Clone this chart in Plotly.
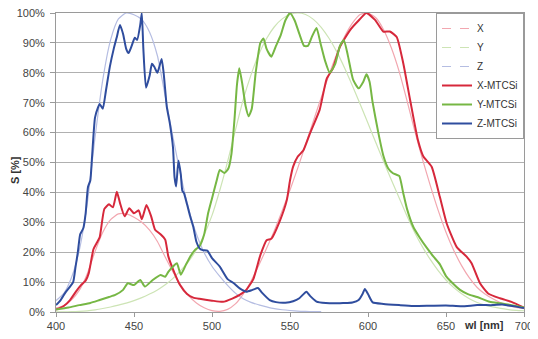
import plotly.graph_objects as go

# ---- Reference curves (thin, light) ----
ref_wl = [400, 405, 410, 415, 420, 425, 430, 435, 440, 445, 450, 455, 460, 465, 470, 475,
          480, 485, 490, 495, 500, 505, 510, 515, 520, 525, 530, 535, 540, 545, 550, 555,
          560, 565, 570, 575, 580, 585, 590, 595, 600, 605, 610, 615, 620, 625, 630, 635,
          640, 645, 650, 655, 660, 665, 670, 675, 680, 685, 690, 695, 700]
x_ref = [1.35, 2.2, 4.1, 7.3, 12.7, 20.2, 26.7, 30.9, 32.8, 32.8, 31.7, 30.0, 27.4, 23.6, 18.4, 13.4,
         9.0, 5.5, 3.0, 1.4, 0.46, 0.23, 0.88, 2.7, 6.0, 10.3, 15.6, 21.3, 27.3, 33.9, 40.8, 48.2,
         56.0, 63.9, 71.7, 79.3, 86.3, 92.1, 96.6, 99.5, 100, 98.4, 94.4, 88.3, 80.4, 70.7, 60.5, 51.0,
         42.2, 34.0, 26.7, 20.6, 15.5, 11.4, 8.2, 6.0, 4.4, 3.1, 2.1, 1.5, 1.1]
y_ref = [0.04, 0.06, 0.12, 0.22, 0.4, 0.73, 1.16, 1.68, 2.3, 2.98, 3.8, 4.8, 6.0, 7.39, 9.1, 11.26,
         13.9, 16.93, 20.8, 25.86, 32.3, 40.73, 50.3, 60.82, 71.0, 79.32, 86.2, 91.49, 95.4, 98.03, 99.5, 100,
         99.5, 97.86, 95.2, 91.54, 87.0, 81.63, 75.7, 69.49, 63.1, 56.68, 50.3, 44.12, 38.1, 32.1, 26.5, 21.7,
         17.5, 13.82, 10.7, 8.16, 6.1, 4.46, 3.2, 2.32, 1.7, 1.19, 0.82, 0.57, 0.41]
z_ref_wl = [400, 405, 410, 415, 420, 425, 430, 435, 440, 445, 450, 455, 460, 465, 470, 475,
            480, 485, 490, 495, 500, 505, 510, 515, 520, 525, 530, 535, 540, 545, 550, 555,
            560, 565, 570]
z_ref = [3.8, 6.2, 11.6, 20.8, 36.2, 58.3, 77.7, 91.0, 98.0, 100, 99.4, 97.8, 93.6, 85.7, 72.2, 58.4,
         45.6, 34.6, 26.1, 19.8, 15.3, 11.9, 8.9, 6.3, 4.4, 3.2, 2.4, 1.7, 1.1, 0.75, 0.5, 0.3,
         0.2, 0.15, 0.1]

# ---- Measured curves ----
x_m_wl = [400, 405, 409, 413, 416, 419, 421, 424, 426, 428, 431, 434, 436.5, 439, 441, 444, 447, 450,
          453, 455, 458, 461, 463.5, 467, 470, 472, 476, 479.5, 484, 488, 492, 500, 507, 513, 518,
          522, 526.5, 531, 535, 538, 543.5, 548, 550, 552, 555, 558.5, 563, 569, 573.5, 577.5, 582,
          588.5, 594, 599, 604.5, 609.8, 614, 618.4, 622.6, 627, 632, 635.5, 640.8, 646, 650.4,
          656.8, 663.2, 666.4, 671.8, 677, 684.6, 692, 700]
x_m = [0.8, 2.0, 4, 7, 9, 10.5, 13, 21, 23, 25, 34.5, 36, 35, 40.2, 36.5, 32, 34.7, 33,
       34, 31, 35.8, 32, 27.5, 26, 24.2, 18.6, 13, 9, 6, 4.8, 4.4, 3.8, 3.4, 4.5, 5.8,
       7.4, 11, 19, 24, 24.5, 30.5, 37.5, 44, 48.6, 52, 54, 60, 67.6, 78, 81.5, 88.7,
       94.3, 97.5, 100, 97.7, 93.8, 93.8, 92, 83.2, 70.9, 57.5, 52, 48.6, 38.6, 29.7,
       21.8, 18.5, 16.3, 9.6, 6.2, 4.6, 3.4, 1.5]

y_m_wl = [400, 408, 415, 422, 428, 434, 438, 443, 446, 450, 454, 457, 462, 467, 470, 472, 475, 477.5,
          480, 483, 486, 489, 492, 495, 497.5, 500, 503, 505, 508, 510.5, 512.5, 514.5, 516, 517.5,
          519.5, 521.5, 523.5, 525.5, 528, 531, 533, 535, 538, 541, 544, 547, 550, 553, 556, 559,
          561.5, 564, 567, 569.5, 572.5, 575.5, 579, 582, 584.5, 587, 590.5, 594, 597, 599, 601,
          603, 606.6, 610, 613, 616, 620, 622.5, 625, 629, 633, 637.6, 642, 646, 650, 653, 659,
          664, 670, 678, 685, 692, 700]
y_m = [0.8, 1.5, 2.3, 3, 4, 5, 5.7, 7.4, 9.6, 9, 10.7, 8.5, 10.7, 12.4, 11.8, 13.4, 15.2, 16.3,
       12.5, 15.5, 18.5, 20.7, 22, 26, 33, 38, 44, 47.5, 46.5, 48, 53, 65, 76, 81.5,
       76, 69, 65.5, 68, 80, 90, 91.5, 88, 85.4, 89, 92.5, 97.5, 100, 97.5, 93, 89,
       89, 92, 95, 90, 84, 80, 83, 89, 91, 86, 77.6, 74.8, 77, 79.5, 77,
       70, 60, 52, 48, 46.4, 45.5, 40, 34.5, 28.5, 25, 21.5, 18.5, 16, 12, 10.3, 7.4,
       6, 5, 3.4, 2.9, 2.3, 1.5]

z_m_wl = [400, 403, 406, 409, 411, 412.5, 414, 415.5, 417.5, 419, 420.5, 422, 423, 425, 427, 428,
          430, 432, 434.5, 437, 439, 441, 443, 445, 446.5, 448.5, 450.5, 452, 454, 455, 456, 457.7,
          460, 461.5, 463, 465, 467.7, 469, 471, 473, 475, 476, 477, 478.5, 480, 481, 482, 484,
          486, 488, 490, 492, 494, 497, 500, 505, 510, 514, 518, 522, 526, 529.5, 532, 537, 541,
          547, 552, 556, 560.5, 563, 567, 573, 578, 584, 590, 594, 596.5, 598, 600, 603, 610,
          620, 629, 640, 650, 660, 670, 680, 686, 690, 695, 700]
z_m = [2.3, 4, 6.5, 8.5, 10, 15, 20, 26, 28, 33, 41.8, 44, 51, 65, 68.5, 69.6,
       68, 74, 82, 88, 92, 96, 93, 88, 86.6, 89, 91.7, 91, 96, 100, 88, 75,
       79, 83, 82, 80, 84.6, 80, 68.7, 63, 55, 45, 42, 50.7, 46, 40.5, 39.8, 36,
       32, 28.5, 23.5, 21.3, 20.7, 20.5, 18, 15.2, 11, 9.6, 7.8, 6.8, 7.4, 8, 6.5, 4, 3.3,
       3.1, 3.6, 4.6, 6.8, 5.3, 3.5, 3, 2.9, 3, 3.2, 4, 6, 7.7, 6, 3.2, 2.7,
       2.3, 2, 2.1, 2.2, 1.9, 2.3, 2.3, 2.5, 2.2, 1.8, 1.3]

wl_ticks = [400, 450, 500, 550, 600, 650, 700]
pct_ticks = [0, 10, 20, 30, 40, 50, 60, 70, 80, 90, 100]
pct_labels = ["0%", "10%", "20%", "30%", "40%", "50%", "60%", "70%", "80%", "90%", "100%"]

C_X, C_Y, C_Z = "#d6283b", "#76b744", "#2f4d9e"
C_XR, C_YR, C_ZR = "#f2a7b0", "#cde4b5", "#b5bde2"

fig = go.Figure()
# reference curves (solid, thin) - legend drawn by dashed legend-only entries
for wl, v, c in [(ref_wl, x_ref, C_XR), (ref_wl, y_ref, C_YR), (z_ref_wl, z_ref, C_ZR)]:
    fig.add_trace(go.Scatter(x=wl, y=v, mode="lines", showlegend=False,
                             line=dict(color=c, width=1.2, shape="spline", smoothing=0.6),
                             hoverinfo="skip"))
for name, c in [("X", C_XR), ("Y", C_YR), ("Z", C_ZR)]:
    fig.add_trace(go.Scatter(x=[None], y=[None], mode="lines", name=name,
                             line=dict(color=c, width=1.2, dash="dash")))
for name, wl, v, c in [("X-MTCSi", x_m_wl, x_m, C_X), ("Y-MTCSi", y_m_wl, y_m, C_Y),
                       ("Z-MTCSi", z_m_wl, z_m, C_Z)]:
    fig.add_trace(go.Scatter(x=wl, y=v, mode="lines", name=name,
                             line=dict(color=c, width=2, shape="spline", smoothing=0.5)))

# page body has an 8px default margin, so the figure is sized/margined to compensate
fig.update_layout(
    width=560, height=331,
    margin=dict(l=48, r=44, t=5, b=27, autoexpand=False),
    paper_bgcolor="white", plot_bgcolor="white",
    font=dict(family="Liberation Sans, Arial, sans-serif", size=11, color="#444444"),
    showlegend=True,
    legend=dict(x=1, y=1, xanchor="right", yanchor="top",
                bgcolor="white", bordercolor="#9a9a9a", borderwidth=1,
                font=dict(size=10, color="#333333"),
                itemwidth=30, tracegroupgap=0),
    xaxis=dict(range=[400, 700], tickvals=wl_ticks, showgrid=False, automargin=False,
               showline=True, linecolor="#9a9a9a", linewidth=1, mirror=True,
               ticks="outside", ticklen=4, tickcolor="#9a9a9a", zeroline=False,
               ticklabeloverflow="allow"),
    yaxis=dict(range=[0, 100], tickvals=pct_ticks, ticktext=pct_labels, automargin=False,
               showgrid=True, gridcolor="#b0b0b0", gridwidth=1,
               showline=True, linecolor="#9a9a9a", linewidth=1, mirror=True,
               ticks="outside", ticklen=5, tickcolor="#9a9a9a", zeroline=False,
               ticklabeloverflow="allow", ticklabelstandoff=3),
    annotations=[
        dict(text="<b>wl [nm]</b>", x=674.5, y=0, xref="x", yref="paper",
             yanchor="top", yshift=-5, showarrow=False,
             font=dict(size=11, color="#333333")),
        dict(text="<b>S [%]</b>", x=0, y=0.475, xref="paper", yref="paper",
             xanchor="center", yanchor="middle", textangle=-90, showarrow=False,
             xshift=-41, font=dict(size=11, color="#333333")),
    ],
)

fig.write_html("out.html")
